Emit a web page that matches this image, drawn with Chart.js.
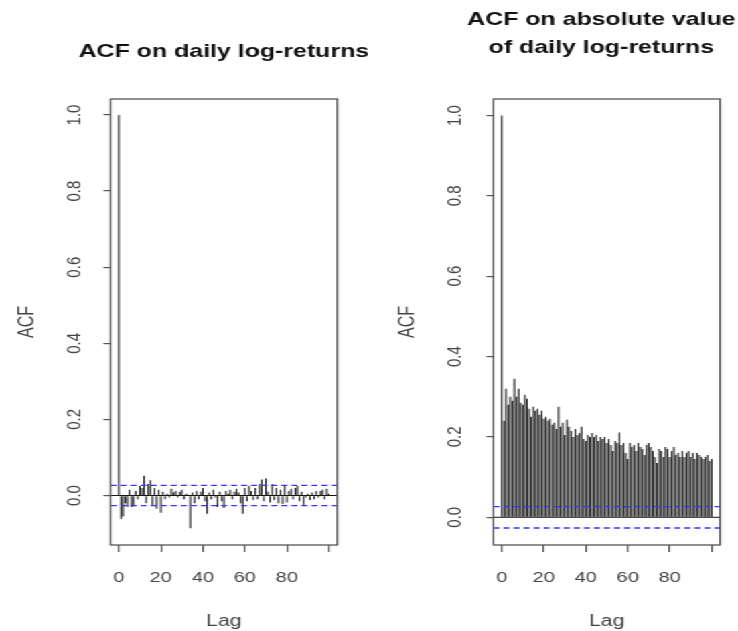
<!DOCTYPE html>
<html>
<head>
<meta charset="utf-8">
<script src="https://cdn.jsdelivr.net/npm/chart.js@4.4.1/dist/chart.umd.min.js"></script>
<style>
  html, body { margin: 0; padding: 0; background: #fff; overflow: hidden; }
  /* the reference is stretched sideways, so draw narrow and widen the whole stage */
  #stage { position: absolute; left: 0; top: 0; width: 551px; height: 631px; transform: scaleX(1.3394); transform-origin: 0 0; }
  #stage canvas { position: absolute; top: 0; }
</style>
</head>
<body>
<div id="stage">
  <canvas id="acfReturns" width="275" height="631" style="left:0"></canvas>
  <canvas id="acfAbsReturns" width="276" height="631" style="left:275px"></canvas>
</div>
<script>
// lags 0..100
const lags = Array.from({ length: 101 }, (_, i) => i);

// ACF of daily log-returns, lags 0..100
const acfReturns = [
  1.0, -0.062, -0.055, -0.02, -0.03, 0.015, -0.03, -0.028, 0.012, -0.01,
  0.025, 0.02, 0.052, -0.02, 0.03, 0.04, -0.025, 0.02, -0.035, 0.015,
  -0.045, 0.01, -0.01, 0.005, -0.005, 0.018, 0.008, 0.012, -0.005, 0.01,
  0.015, -0.01, 0.005, 0.002, -0.086, 0.008, -0.02, 0.012, -0.01, 0.01,
  0.02, -0.015, -0.048, 0.008, -0.01, 0.015, -0.005, -0.03, 0.01, -0.015,
  -0.033, 0.012, 0.005, 0.015, -0.01, 0.01, 0.018, 0.008, -0.02, -0.048,
  0.02, -0.015, 0.025, 0.012, -0.012, 0.02, -0.01, 0.03, 0.042, -0.015,
  0.045, 0.01, -0.018, 0.03, -0.012, 0.02, -0.02, 0.015, -0.022, 0.025,
  -0.018, 0.012, 0.018, -0.01, 0.02, 0.025, -0.015, 0.01, -0.027, -0.005,
  0.005, -0.012, 0.008, -0.01, 0.012, -0.005, 0.012, 0.015, -0.01, 0.018,
  0.005
];

// ACF of absolute daily log-returns, lags 0..100
const acfAbsReturns = [
  1.0, 0.24, 0.32, 0.28, 0.30, 0.29, 0.345, 0.30, 0.32, 0.285,
  0.28, 0.305, 0.295, 0.27, 0.25, 0.275, 0.265, 0.27, 0.255, 0.265,
  0.245, 0.25, 0.24, 0.245, 0.23, 0.235, 0.22, 0.275, 0.225, 0.235,
  0.205, 0.243, 0.225, 0.215, 0.20, 0.22, 0.205, 0.21, 0.225, 0.195,
  0.19, 0.205, 0.20, 0.21, 0.20, 0.205, 0.19, 0.20, 0.195, 0.20,
  0.185, 0.195, 0.18, 0.165, 0.19, 0.185, 0.211, 0.18, 0.185, 0.16,
  0.145, 0.185, 0.175, 0.18, 0.165, 0.185, 0.175, 0.17, 0.155, 0.18,
  0.185, 0.175, 0.165, 0.15, 0.135, 0.17, 0.165, 0.15, 0.175, 0.17,
  0.15, 0.165, 0.175, 0.155, 0.16, 0.15, 0.165, 0.15, 0.16, 0.165,
  0.15, 0.16, 0.145, 0.16, 0.155, 0.15, 0.145, 0.15, 0.155, 0.14,
  0.145
];

const confLimit = 0.0267;

const lagTicks = [0, 20, 40, 60, 80, 100];
const lagTickLabels = ['0', '20', '40', '60', '80', ''];
const acfTicks = [0, 0.2, 0.4, 0.6, 0.8, 1.0];
const acfTickLabels = ['0.0', '0.2', '0.4', '0.6', '0.8', '1.0'];

const FONT = '"Liberation Sans", Arial, Helvetica, sans-serif';
Chart.defaults.font.family = FONT;

// zero line, blue dashed limits and the box, like R's plot.acf
const acfFrame = {
  id: 'acfFrame',
  afterDatasetsDraw(chart) {
    const { ctx, chartArea: a } = chart;
    const y = chart.scales.y;
    ctx.save();
    ctx.strokeStyle = '#111';
    ctx.lineWidth = 1;
    const y0 = y.getPixelForValue(0);
    ctx.beginPath();
    ctx.moveTo(a.left, y0);
    ctx.lineTo(a.right, y0);
    ctx.stroke();

    ctx.strokeStyle = '#3535ff';
    ctx.lineWidth = 1.3;
    ctx.setLineDash([4.5, 3]);
    [confLimit, -confLimit].forEach(v => {
      const py = y.getPixelForValue(v);
      ctx.beginPath();
      ctx.moveTo(a.left, py);
      ctx.lineTo(a.right, py);
      ctx.stroke();
    });

    ctx.setLineDash([]);
    ctx.strokeStyle = '#555';
    ctx.lineWidth = 1.3;
    ctx.strokeRect(a.left, a.top, a.right - a.left, a.bottom - a.top);
    ctx.restore();
  }
};

// main title centred over the plot box (R style), no width squeezing
const panelTitle = {
  id: 'panelTitle',
  afterDraw(chart, args, opts) {
    const { ctx, chartArea: a } = chart;
    const cx = (a.left + a.right) / 2 + (opts.shift || 0);
    ctx.save();
    ctx.font = 'bold 18.6px ' + FONT;
    ctx.fillStyle = '#111';
    ctx.textAlign = 'center';
    ctx.textBaseline = 'middle';
    opts.lines.forEach((t, i) => ctx.fillText(t, cx, opts.top + i * opts.lineHeight));
    ctx.restore();
  }
};

function acfChart(id, values, cfg) {
  return new Chart(document.getElementById(id), {
    type: 'bar',
    data: {
      datasets: [{
        data: values.map((v, i) => ({ x: lags[i], y: v })),
        backgroundColor: '#1c1c1c',
        borderWidth: 0,
        inflateAmount: 0,
        barThickness: 1.1
      }]
    },
    options: {
      responsive: false,
      animation: false,
      layout: { padding: { left: 0, right: cfg.padRight, top: 99, bottom: 0 } },
      plugins: {
        legend: { display: false },
        tooltip: { enabled: false },
        title: { display: false },
        panelTitle: { lines: cfg.title, top: cfg.titleTop, lineHeight: 28, shift: cfg.titleShift }
      },
      scales: {
        x: {
          type: 'linear',
          min: -4,
          max: 104,
          offset: false,
          afterBuildTicks: s => { s.ticks = lagTicks.map(v => ({ value: v })); },
          afterFit: s => { s.height = 86; },
          grid: { display: true, drawOnChartArea: false, drawTicks: true, tickLength: 7, color: '#555', lineWidth: 1.2, offset: false },
          border: { display: false },
          ticks: {
            autoSkip: false, maxRotation: 0, minRotation: 0, padding: 17,
            color: '#444', font: { size: 15 },
            callback: v => lagTickLabels[lagTicks.indexOf(v)]
          },
          title: { display: true, text: 'Lag', color: '#444', font: { size: 16, lineHeight: 1.2 }, padding: { top: 0, bottom: 0 } }
        },
        y: {
          type: 'linear',
          min: cfg.yMin,
          max: cfg.yMax,
          afterBuildTicks: s => { s.ticks = acfTicks.map(v => ({ value: v })); },
          afterFit: s => { s.width = cfg.axisWidth; },
          grid: { display: true, drawOnChartArea: false, drawTicks: true, tickLength: 5.2, color: '#555', lineWidth: 1.2 },
          border: { display: false },
          ticks: {
            autoSkip: false, minRotation: 90, maxRotation: 90, crossAlign: 'center', padding: cfg.tickPad,
            color: '#444', font: { size: 15 },
            callback: v => acfTickLabels[acfTicks.indexOf(v)]
          },
          title: { display: true, text: 'ACF', color: '#444', font: { size: 16, lineHeight: 1.2 }, padding: { top: cfg.yTitlePad, bottom: 0 } }
        }
      }
    },
    plugins: [acfFrame, panelTitle]
  });
}

acfChart('acfReturns', acfReturns, {
  title: ['ACF on daily log-returns'],
  titleTop: 52, titleShift: 0,
  yMin: -0.13, yMax: 1.042,
  axisWidth: 82.5, padRight: 23.2,
  tickPad: 10.9, yTitlePad: 11.3
});

acfChart('acfAbsReturns', acfAbsReturns, {
  title: ['ACF on absolute value', 'of daily log-returns'],
  titleTop: 20, titleShift: -4,
  yMin: -0.069, yMax: 1.041,
  axisWidth: 93.4, padRight: 13.4,
  tickPad: 12.5, yTitlePad: 19.9
});
</script>
</body>
</html>
